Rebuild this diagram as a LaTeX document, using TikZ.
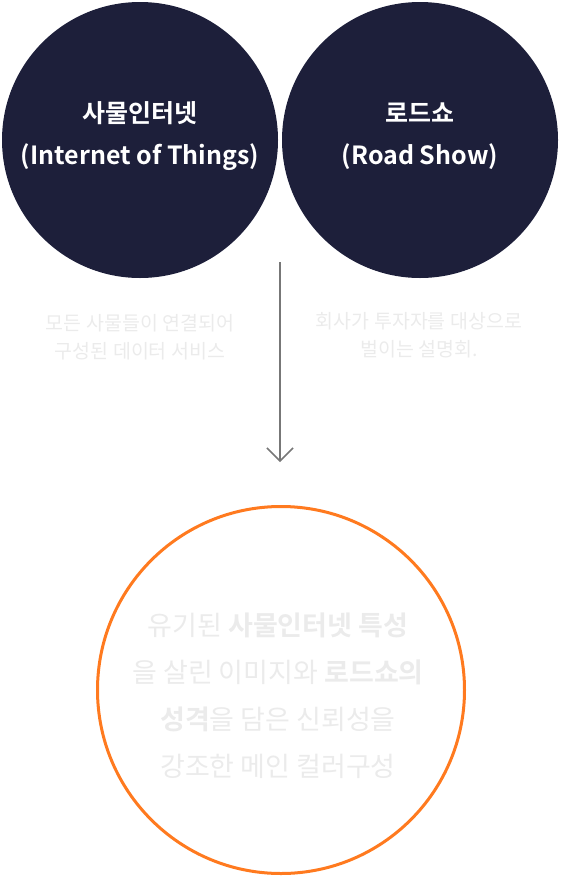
\documentclass[tikz,border=0pt]{standalone}
\usepackage{fontspec}
\setmainfont{Noto Sans CJK KR}
\newfontfamily\krbold{Noto Sans CJK KR Bold}
\usetikzlibrary{arrows.meta}
\definecolor{navy}{HTML}{1D1F3A}
\definecolor{orangeline}{HTML}{FF7A1F}
\definecolor{paletext}{HTML}{EBEBEB}
\definecolor{arrowgray}{HTML}{777777}
\tikzset{
  darkcircle/.style={circle, fill=navy, minimum size=276pt, inner sep=0pt},
  titletext/.style={text=white, font=\krbold\fontsize{25}{42}\selectfont, align=center},
  captext/.style={text=paletext, font=\fontsize{19.5}{28}\selectfont, align=center},
  ringcircle/.style={circle, draw=orangeline, line width=3pt, minimum size=367pt, inner sep=0pt},
  ringtext/.style={text=paletext, font=\fontsize{27}{47}\selectfont, align=center},
  flow/.style={draw=arrowgray, line width=1.5pt, -{Straight Barb[length=13pt,width=26pt,line width=1.5pt]}}
}
\begin{document}
\begin{tikzpicture}[x=1pt,y=-1pt]
\useasboundingbox (0,0) rectangle (560,878);
\node[darkcircle] (iot) at (140,140) {};
\node[darkcircle] (road) at (420,140) {};
\node[titletext] (iottxt) at (140,136) {사물인터넷\\(Internet of Things)};
\node[titletext] (roadtxt) at (420,136) {로드쇼\\(Road Show)};
\node[captext] (iotcap) at (140,337) {모든 사물들이 연결되어\\구성된 데이터 서비스};
\node[captext] (roadcap) at (419,335) {회사가 투자자를 대상으로\\벌이는 설명회.};
\node[ringcircle] (ring) at (281,690) {};
\node[ringtext] (ringtxt) at (278,696) {유기된 {\krbold 사물인터넷 특성}\\을 살린 이미지와 {\krbold 로드쇼의}\\{\krbold 성격}을 담은 신뢰성을\\강조한 메인 컬러구성};
\coordinate (astart) at (280,262);
\coordinate (aend) at (280,462);
\draw[flow] (astart) -- (aend);
\end{tikzpicture}
\end{document}
